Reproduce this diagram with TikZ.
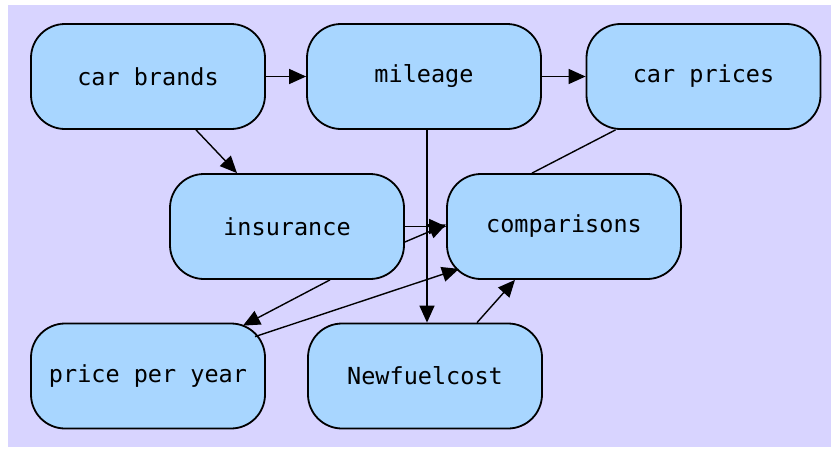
\documentclass[tikz,border=0pt]{standalone}
\usepackage{fontspec}
\setmonofont{DejaVu Sans Mono}
\usetikzlibrary{arrows.meta}
\definecolor{bgcol}{RGB}{216,212,255}
\definecolor{nodefill}{RGB}{168,214,255}
\begin{document}
\begin{tikzpicture}[x=1pt,y=-1pt,
  box/.style={draw=black, line width=1.8pt, fill=nodefill, rounded corners=34pt,
    minimum width=234pt, minimum height=105pt, inner sep=0pt,
    font=\ttfamily\fontsize{23.5}{27}\selectfont},
  conn/.style={line width=1.4pt},
  arr/.style={conn, -{Triangle[length=17pt,width=15pt]}}]
\useasboundingbox (0,0) rectangle (833,448);
\fill[white] (0,0) rectangle (833,448);
\fill[bgcol] (8,5) rectangle (831,447);

\node[box] (cb) at (148,76.5) {car brands};
\node[box] (mi) at (424,76.5) {mileage};
\node[box] (cp) at (703.5,76.5) {car prices};
\node[box] (in) at (287,226.5) {insurance};
\node[box] (co) at (564,226.5) {comparisons};
\node[box] (py) at (148,376) {price per year};
\node[box] (nf) at (425,376) {Newfuelcost};

\draw[arr] (cb.east) -- (mi.west);
\draw[arr] (mi.east) -- (cp.west);
\draw[arr] ([xshift=48pt]cb.south) -- ([xshift=-50pt]in.north);
\draw[conn] ([xshift=-88pt]cp.south) -- ([xshift=-32pt]co.north);
\draw[arr] ([xshift=3pt]mi.south) -- ([xshift=2pt]nf.north);
\draw[arr] (in.east) -- (co.west);
\draw[arr] ([yshift=-15.5pt]in.east) -- ([yshift=2pt]co.west);
\draw[arr] ([xshift=43pt]in.south) -- ([xshift=95pt,yshift=-3pt]py.north);
\draw[arr] ([xshift=107pt,yshift=-14pt]py.north) -- ([xshift=-105pt,yshift=11pt]co.south);
\draw[arr] ([xshift=52pt]nf.north) -- ([xshift=-49pt]co.south);
\end{tikzpicture}
\end{document}
